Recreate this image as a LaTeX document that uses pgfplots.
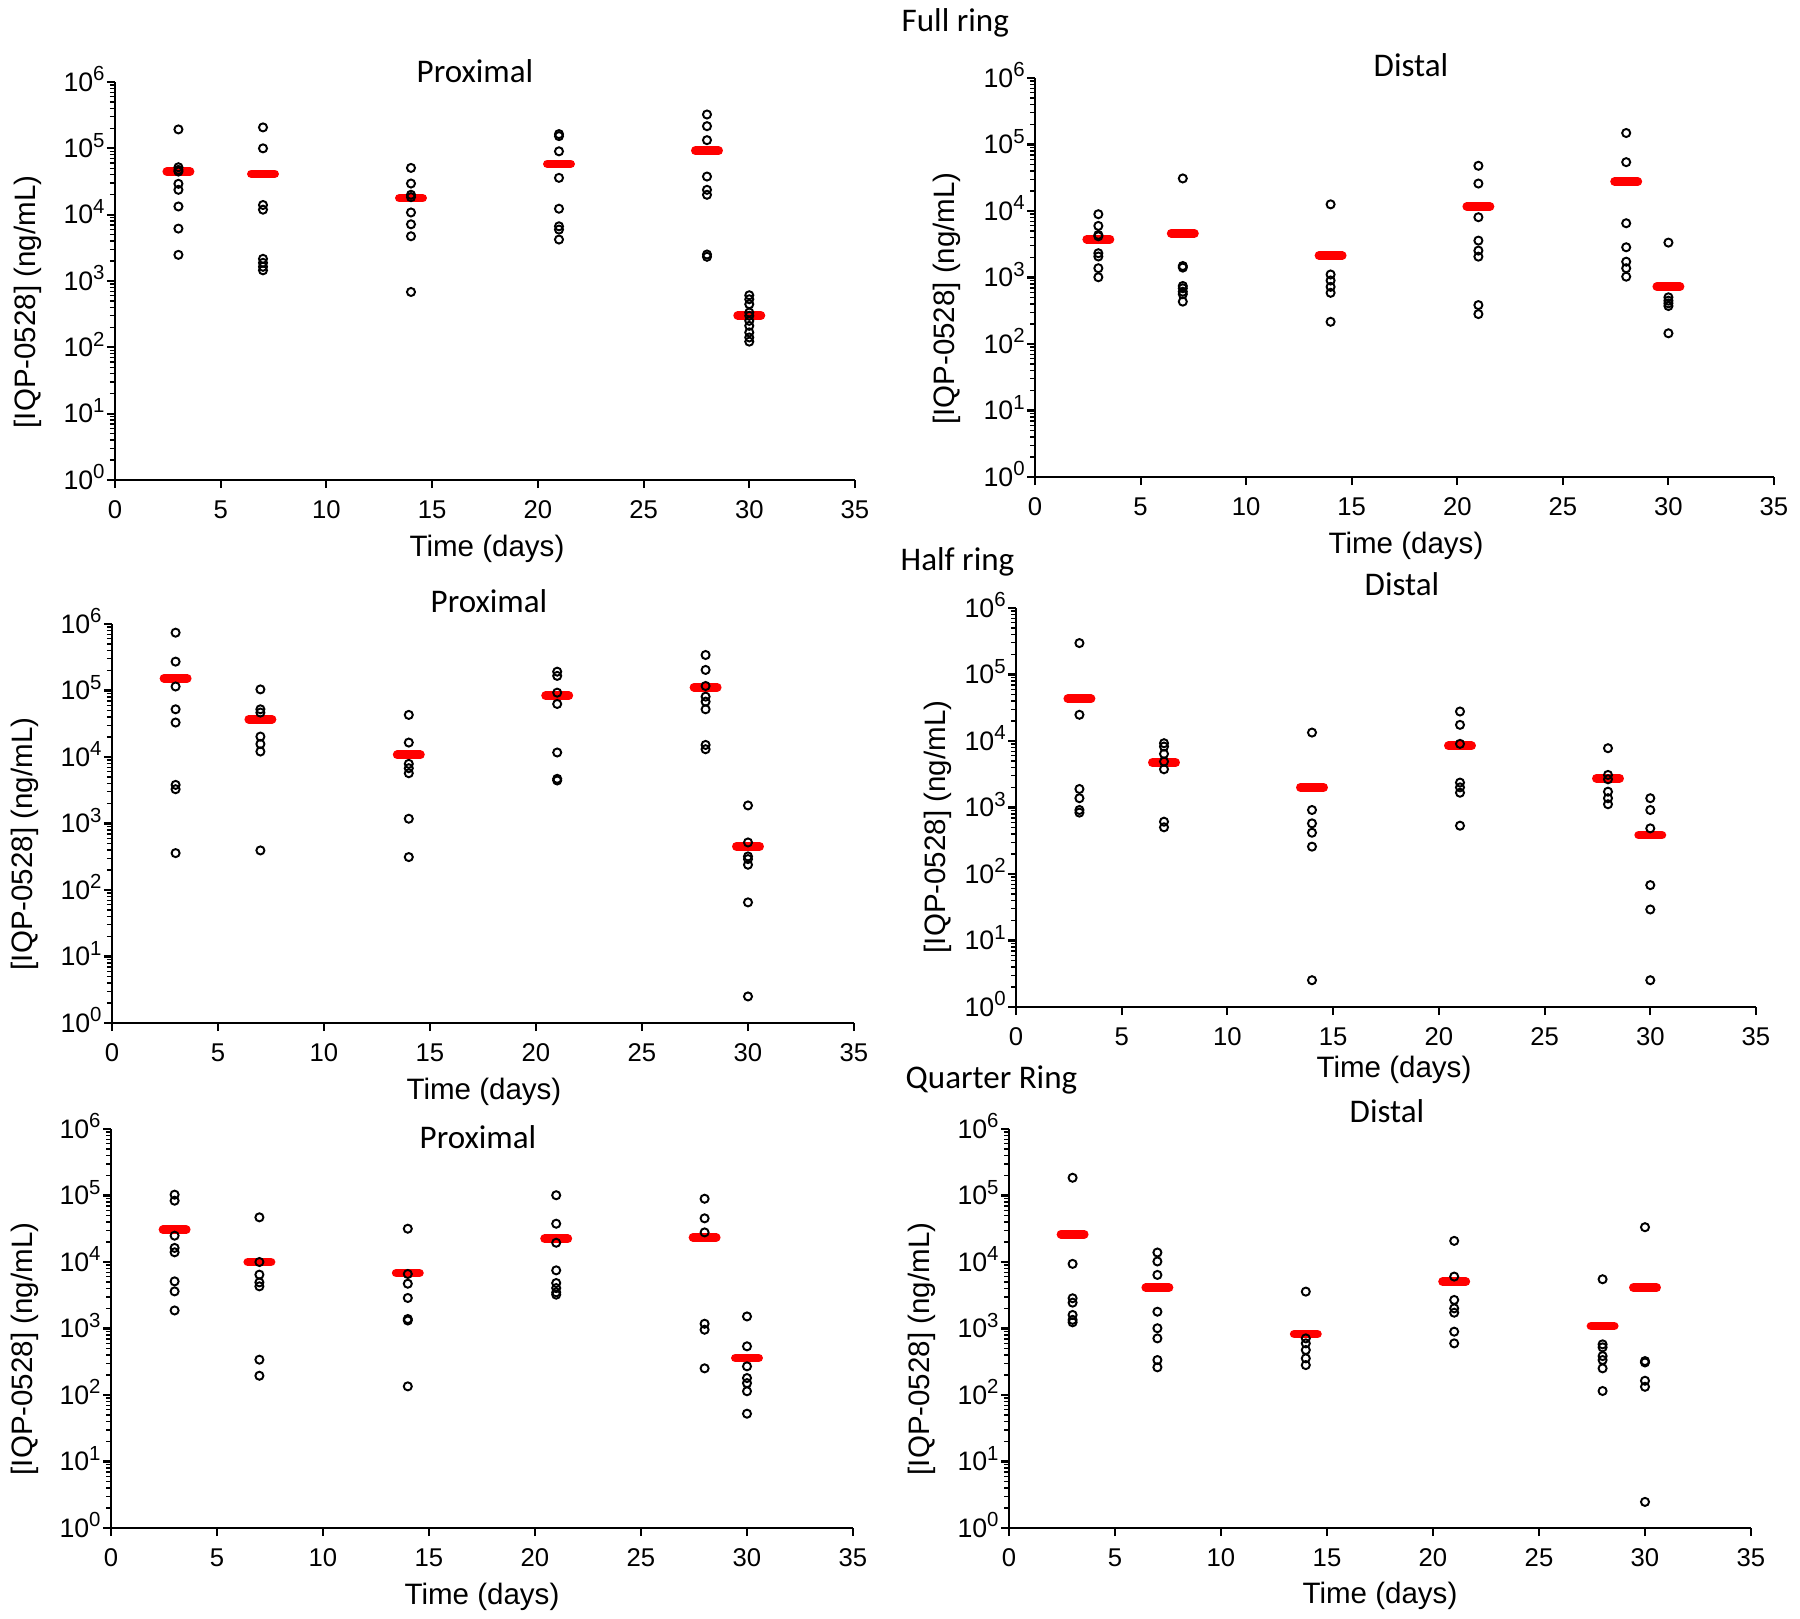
\documentclass[border=0pt]{standalone}
\usepackage{fontspec}
\setmainfont{Liberation Sans}
\newfontfamily\carlito{Carlito}
\usepackage{pgfplots}
\pgfplotsset{compat=1.18}
\newcommand{\tp}[1]{10\smash{\raisebox{3pt}{\fontsize{5.8}{6}\selectfont #1}}}
\pgfplotsset{
 panel/.style={
  scale only axis, anchor=south west,
  xmin=0, xmax=35, ymin=1, ymax=1e6,
  axis x line*=bottom, axis y line*=left,
  xtick={0,5,...,35},
  ytick={1,10,100,1000,10000,100000,1000000},
  yticklabels={\tp{0},\tp{1},\tp{2},\tp{3},\tp{4},\tp{5},\tp{6}},
  minor ytick={2,3,4,5,6,7,8,9,20,30,40,50,60,70,80,90,200,300,400,500,600,700,800,900,2000,3000,4000,5000,6000,7000,8000,9000,20000,30000,40000,50000,60000,70000,80000,90000,200000,300000,400000,500000,600000,700000,800000,900000},
  tick align=outside,
  major tick length=0.08cm, minor tick length=0.05cm,
  major tick style={black, line width=0.6pt},
  minor tick style={black, line width=0.4pt},
  axis line style={line width=0.75pt},
  xticklabel style={font=\fontsize{7.3}{8}\selectfont},
  yticklabel style={font=\fontsize{7.6}{8}\selectfont, xshift=0.1cm},
  /pgf/number format/assume math mode=true,
  clip=false,
 },
 circ/.style={only marks, mark=o, mark size=1.15pt, mark options={line width=0.55pt, draw=black, fill=none}},
 med/.style={only marks, mark=-, mark size=3.3pt, mark options={draw=red, line width=2.5pt, line cap=round}},
}
\tikzset{
 grp/.style={font=\carlito\fontsize{9.4}{11}\selectfont, anchor=base west, inner sep=0pt},
 ttl/.style={font=\carlito\fontsize{9.4}{11}\selectfont, anchor=base, inner sep=0pt},
 xl/.style={font=\fontsize{8.4}{10}\selectfont, anchor=base, inner sep=0pt},
 yl/.style={font=\fontsize{8.4}{10}\selectfont, anchor=center, rotate=90, inner sep=0pt},
}
\begin{document}
\begin{tikzpicture}
\useasboundingbox (0,0) rectangle (18,-16.18);
% ---------------- Full ring, Proximal ----------------
\begin{semilogyaxis}[panel, at={(1.15cm,-4.80cm)}, width=7.40cm, height=3.98cm]
\addplot[med] coordinates {(3,44700) (7,41200) (14,17800) (21,58200) (28,92200) (30,302)};
\addplot[circ] coordinates {
(3,193000) (3,51900) (3,47300) (3,44700) (3,29200) (3,23700) (3,13300) (3,6170) (3,2480)
(7,207000) (7,100000) (7,14000) (7,11900) (7,2160) (7,1880) (7,1640) (7,1450)
(14,50700) (14,29500) (14,19950) (14,18400) (14,10800) (14,7160) (14,4730) (14,684)
(21,164000) (21,153000) (21,90200) (21,35900) (21,12300) (21,6680) (21,5960) (21,4220)
(28,324000) (28,216000) (28,133000) (28,37600) (28,23700) (28,19950) (28,2510) (28,2320)
(30,610) (30,531) (30,447) (30,335) (30,299) (30,251) (30,211) (30,168) (30,141) (30,122)};
\end{semilogyaxis}
% ---------------- Full ring, Distal ----------------
\begin{semilogyaxis}[panel, at={(10.35cm,-4.77cm)}, width=7.39cm, height=3.99cm]
\addplot[med] coordinates {(3,3760) (7,4620) (14,2140) (21,11700) (28,27800) (30,729)};
\addplot[circ] coordinates {
(3,8950) (3,5970) (3,4370) (3,4170) (3,2320) (3,2070) (3,1380) (3,1010)
(7,30900) (7,1490) (7,1410) (7,746) (7,689) (7,612) (7,562) (7,434)
(14,12600) (14,1110) (14,902) (14,724) (14,589) (14,216)
(21,47900) (21,25900) (21,8070) (21,3590) (21,2540) (21,2060) (21,385) (21,282)
(28,149000) (28,54300) (28,6550) (28,2850) (28,1730) (28,1380) (28,1030)
(30,3350) (30,504) (30,449) (30,409) (30,373) (30,145)};
\end{semilogyaxis}
% ---------------- Half ring, Proximal ----------------
\begin{semilogyaxis}[panel, at={(1.12cm,-10.23cm)}, width=7.42cm, height=3.99cm]
\addplot[med] coordinates {(3,153000) (7,37000) (14,10800) (21,83800) (28,112000) (30,452)};
\addplot[circ] coordinates {
(3,741000) (3,272000) (3,115000) (3,52200) (3,33000) (3,3810) (3,3280) (3,359)
(7,104000) (7,52200) (7,46600) (7,20300) (7,15700) (7,12100) (7,394)
(14,43000) (14,16500) (14,7890) (14,6790) (14,5710) (14,1180) (14,313)
(21,192000) (21,166000) (21,92900) (21,62800) (21,11700) (21,4700) (21,4440)
(28,342000) (28,204000) (28,117000) (28,80900) (28,68100) (28,52200) (28,15200) (28,13100)
(30,1870) (30,519) (30,320) (30,292) (30,240) (30,65.2) (30,2.51)};
\end{semilogyaxis}
% ---------------- Half ring, Distal ----------------
\begin{semilogyaxis}[panel, at={(10.16cm,-10.07cm)}, width=7.40cm, height=3.99cm]
\addplot[med] coordinates {(3,43200) (7,4740) (14,2010) (21,8450) (28,2750) (30,385)};
\addplot[circ] coordinates {
(3,297000) (3,24800) (3,1900) (3,1380) (3,918) (3,838)
(7,9270) (7,8260) (7,6400) (7,4910) (7,3760) (7,612) (7,504)
(14,13400) (14,918) (14,578) (14,418) (14,258) (14,2.53)
(21,27800) (21,17500) (21,9060) (21,2370) (21,2010) (21,1670) (21,533)
(28,7800) (28,3090) (28,2660) (28,1730) (28,1380) (28,1120)
(30,1380) (30,918) (30,486) (30,68.1) (30,29.3) (30,2.53)};
\end{semilogyaxis}
% ---------------- Quarter ring, Proximal ----------------
\begin{semilogyaxis}[panel, at={(1.11cm,-15.28cm)}, width=7.42cm, height=3.99cm]
\addplot[med] coordinates {(3,30600) (7,10000) (14,6840) (21,22400) (28,23500) (30,360)};
\addplot[circ] coordinates {
(3,103000) (3,83600) (3,24900) (3,16300) (3,14000) (3,5120) (3,3620) (3,1870)
(7,47000) (7,10000) (7,6460) (7,4940) (7,4310) (7,340) (7,195)
(14,31700) (14,6610) (14,4720) (14,2880) (14,1390) (14,1320) (14,135)
(21,101000) (21,37700) (21,19500) (21,7500) (21,4830) (21,4060) (21,3500) (21,3230)
(28,89500) (28,45400) (28,27900) (28,1180) (28,959) (28,252)
(30,1520) (30,540) (30,270) (30,180) (30,151) (30,114) (30,52.4)};
\end{semilogyaxis}
% ---------------- Quarter ring, Distal ----------------
\begin{semilogyaxis}[panel, at={(10.09cm,-15.28cm)}, width=7.42cm, height=3.99cm]
\addplot[med] coordinates {(3,26200) (7,4120) (14,828) (21,5080) (28,1090) (30,4120)};
\addplot[circ] coordinates {
(3,185000) (3,9380) (3,2850) (3,2450) (3,1600) (3,1350) (3,1240)
(7,13900) (7,10200) (7,6400) (7,1790) (7,1010) (7,711) (7,336) (7,261)
(14,3590) (14,711) (14,598) (14,475) (14,356) (14,282)
(21,20800) (21,6040) (21,2690) (21,2010) (21,1730) (21,897) (21,598)
(28,5510) (28,578) (28,521) (28,385) (28,336) (28,252) (28,115)
(30,33400) (30,324) (30,309) (30,164) (30,133) (30,2.47)};
\end{semilogyaxis}
% ---------------- texts ----------------
\node[grp] at (9.01,-0.31) {Full ring};
\node[grp] at (9.00,-5.70) {Half ring};
\node[grp] at (9.05,-10.88) {Quarter Ring};
\node[ttl] at (4.75,-0.827) {Proximal};
\node[ttl] at (14.11,-0.767) {Distal};
\node[ttl] at (4.89,-6.12) {Proximal};
\node[ttl] at (14.02,-5.95) {Distal};
\node[ttl] at (4.78,-11.48) {Proximal};
\node[ttl] at (13.87,-11.22) {Distal};
\node[xl] at (4.87,-5.56) {Time (days)};
\node[xl] at (14.06,-5.53) {Time (days)};
\node[xl] at (4.84,-10.99) {Time (days)};
\node[xl] at (13.94,-10.77) {Time (days)};
\node[xl] at (4.82,-16.04) {Time (days)};
\node[xl] at (13.80,-16.03) {Time (days)};
\node[yl] at (0.275,-3.02) {[IQP-0528] (ng/mL)};
\node[yl] at (9.47,-2.985) {[IQP-0528] (ng/mL)};
\node[yl] at (0.25,-8.44) {[IQP-0528] (ng/mL)};
\node[yl] at (9.38,-8.27) {[IQP-0528] (ng/mL)};
\node[yl] at (0.25,-13.49) {[IQP-0528] (ng/mL)};
\node[yl] at (9.22,-13.49) {[IQP-0528] (ng/mL)};
\end{tikzpicture}
\end{document}
